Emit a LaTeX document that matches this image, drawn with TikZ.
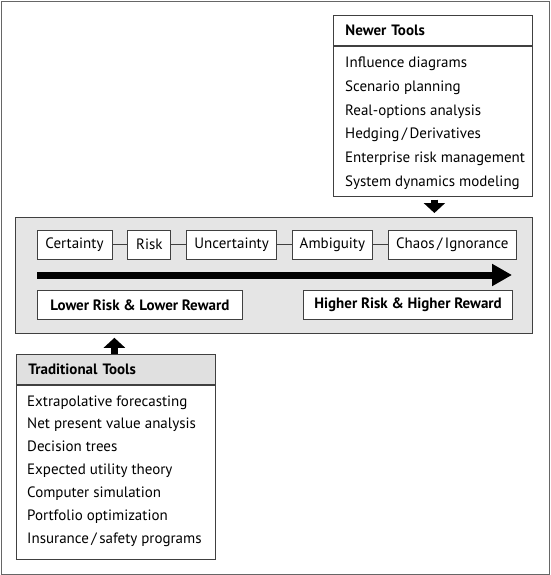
\documentclass[tikz,border=0pt]{standalone}
\usepackage{fontspec}
\setmainfont{PT Sans}
\usetikzlibrary{positioning,arrows.meta}

\tikzset{
    frameline/.style={draw=black!75, line width=0.8pt},
    stagebox/.style={frameline, fill=white, minimum height=29pt, inner sep=0pt, font=\fontsize{15}{17}\selectfont},
    rewardbox/.style={frameline, fill=white, minimum height=29pt, inner sep=0pt, font=\fontsize{15}{17}\selectfont\bfseries},
    headbox/.style={frameline, minimum width=199pt, minimum height=30pt, text width=175pt, align=left, inner sep=0pt, font=\fontsize{15}{17}\selectfont\bfseries},
    toolitem/.style={anchor=base west, inner sep=0pt, font=\fontsize{15}{17}\selectfont},
    blockarrow/.style={line width=7pt, -{Triangle[length=10pt,width=21pt]}},
}

\begin{document}
\begin{tikzpicture}[x=1pt, y=-1pt]
    \useasboundingbox (0,0) rectangle (550,575);
    \draw[black!60] (1,1) rectangle (549,574);

    % middle panel
    \node[frameline, fill=black!10, minimum width=517pt, minimum height=116pt, inner sep=0pt, anchor=north west] (panel) at (15,217) {};

    \node[stagebox, minimum width=75pt] (certainty) at (74.5,244.5) {Certainty};
    \node[stagebox, minimum width=43pt, right=15pt of certainty] (risk) {Risk};
    \node[stagebox, minimum width=90pt, right=15pt of risk] (uncertainty) {Uncertainty};
    \node[stagebox, minimum width=80pt, right=15pt of uncertainty] (ambiguity) {Ambiguity};
    \node[stagebox, minimum width=128pt, right=15pt of ambiguity] (chaos) {Chaos\,/\,Ignorance};
    \foreach \a/\b in {certainty/risk, risk/uncertainty, uncertainty/ambiguity, ambiguity/chaos}
        \draw[frameline] (\a) -- (\b);

    \coordinate (arrowstart) at (37,275);
    \coordinate (arrowend) at (512,275);
    \draw[line width=7pt, -{Triangle[length=20pt,width=21pt]}] (arrowstart) -- (arrowend);

    \node[rewardbox, minimum width=205pt, anchor=north west] (lowerbox) at (37,290) {Lower Risk \& Lower Reward};
    \node[rewardbox, minimum width=209pt, anchor=north east] (higherbox) at (513,290) {Higher Risk \& Higher Reward};

    % newer tools
    \node[headbox, anchor=north west] (newhead) at (333,15) {Newer Tools};
    \node[frameline, minimum width=199pt, minimum height=150pt, anchor=north] (newbox) at (newhead.south) {};
    \foreach \tool [count=\i from 0] in {Influence diagrams, Scenario planning, Real-options analysis,
            Hedging\,/\,Derivatives, Enterprise risk management, System dynamics modeling}
        \node[toolitem] (newtool\i) at (345,68+23.6*\i) {\tool};
    \draw[blockarrow] ([xshift=1.5pt, yshift=-3pt]newbox.south) -- ([xshift=1.5pt, yshift=4pt]newbox.south |- panel.north);

    % traditional tools
    \node[headbox, fill=black!12, anchor=north west] (oldhead) at (16,354) {Traditional Tools};
    \node[frameline, minimum width=199pt, minimum height=174pt, anchor=north] (oldbox) at (oldhead.south) {};
    \foreach \tool [count=\i from 0] in {Extrapolative forecasting, Net present value analysis, Decision trees,
            Expected utility theory, Computer simulation, Portfolio optimization, Insurance\,/\,safety programs}
        \node[toolitem] (oldtool\i) at (27,406+22.9*\i) {\tool};
    \draw[blockarrow] ([xshift=-1.5pt]oldhead.north) -- ([xshift=-1.5pt, yshift=-4pt]oldhead.north |- panel.south);
\end{tikzpicture}
\end{document}
